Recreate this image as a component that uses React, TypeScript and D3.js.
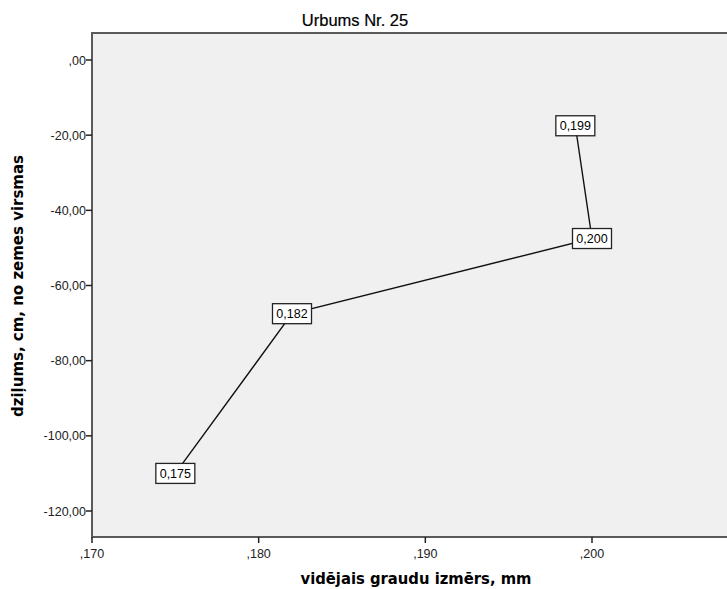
import React from "react";
import * as d3 from "d3";

const grainSize = [0.199, 0.2, 0.182, 0.175];
const depth = [-17.5, -47.5, -67.5, -110];
const pointLabels = ["0,199", "0,200", "0,182", "0,175"];
const xTicks = [0.17, 0.18, 0.19, 0.2];
const xTickLabels = [",170", ",180", ",190", ",200"];
const yTicks = [0, -20, -40, -60, -80, -100, -120];
const yTickLabels = [",00", "-20,00", "-40,00", "-60,00", "-80,00", "-100,00", "-120,00"];

const W = 727;
const H = 589;
const left = 92;
const top = 33;
const bottom = 537;

export default function App() {
  const x = d3.scaleLinear().domain([0.17, 0.2]).range([left, 592]);
  const y = d3.scaleLinear().domain([0, -120]).range([60, 511]);
  const plotRight = x(0.215);
  const pts = grainSize.map((g, i) => [x(g), y(depth[i])] as [number, number]);
  const line = d3.line()(pts) as string;
  const font = "'Liberation Sans', Arial, sans-serif";
  const boldFont = "'DejaVu Sans', Verdana, sans-serif";
  return (
    <svg width={W} height={H} style={{ position: "absolute", left: 0, top: 0, background: "#fff" }} fontFamily={font}>
      <text x={355} y={26} textAnchor="middle" fontSize={16.5} fill="#000" stroke="#000" strokeWidth={0.2}>Urbums Nr. 25</text>
      <rect x={left} y={top} width={plotRight - left} height={bottom - top} fill="#f0f0f0" stroke="#5a5a5a" strokeWidth={2} />
      {yTicks.map((t, i) => (
        <g key={"y" + i}>
          <line x1={left - 6} x2={left} y1={y(t)} y2={y(t)} stroke="#222" strokeWidth={1.5} />
          <text x={left - 6} y={y(t) + 4.5} textAnchor="end" fontSize={12.5} fill="#222">{yTickLabels[i]}</text>
        </g>
      ))}
      {xTicks.map((t, i) => (
        <g key={"x" + i}>
          <line x1={x(t)} x2={x(t)} y1={bottom} y2={bottom + 6} stroke="#222" strokeWidth={1.5} />
          <text x={x(t)} y={bottom + 21} textAnchor="middle" fontSize={12.5} fill="#222">{xTickLabels[i]}</text>
        </g>
      ))}
      <text x={416} y={584} textAnchor="middle" fontSize={15} fontWeight="bold" fill="#000" fontFamily={boldFont} textLength={231} lengthAdjust="spacingAndGlyphs">vidējais graudu izmērs, mm</text>
      <text transform={`translate(23,286) rotate(-90)`} textAnchor="middle" fontSize={15} fontWeight="bold" fill="#000" fontFamily={boldFont} textLength={262} lengthAdjust="spacingAndGlyphs">dziļums, cm, no zemes virsmas</text>
      <path d={line} fill="none" stroke="#111" strokeWidth={1.4} />
      {pts.map((p, i) => (
        <g key={"p" + i}>
          <rect x={p[0] - 19.5} y={p[1] - 10} width={39} height={20} fill="#fff" stroke="#222" strokeWidth={1.3} />
          <text x={p[0]} y={p[1] + 4.5} textAnchor="middle" fontSize={12.5} fill="#000">{pointLabels[i]}</text>
        </g>
      ))}
    </svg>
  );
}
